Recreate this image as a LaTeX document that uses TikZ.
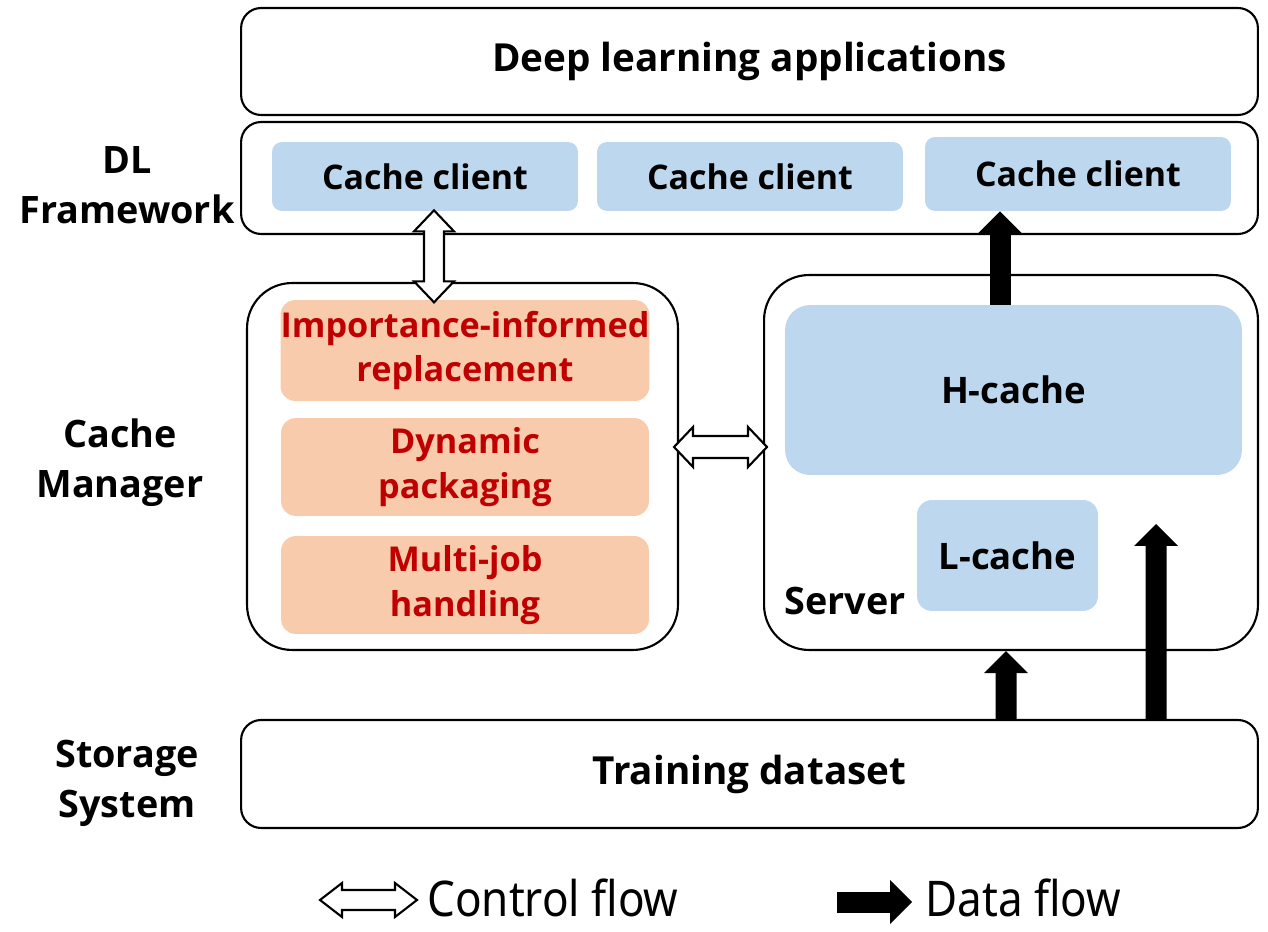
\documentclass[tikz,border=0pt]{standalone}
\usepackage{fontspec}
\setmainfont{Open Sans}
\newfontfamily\legendfont[FakeStretch=0.895]{Noto Sans}
\usetikzlibrary{calc,arrows.meta}
\definecolor{clientblue}{HTML}{BDD7EE}
\definecolor{mgrorange}{HTML}{F8CBAD}
\definecolor{mgrred}{HTML}{C00000}
\tikzset{
  layer/.style={draw, line width=1.2pt, rounded corners=0.4cm, minimum width=20.34cm, font=\bfseries\fontsize{22}{26}\selectfont},
  client/.style={fill=clientblue, rounded corners=0.2cm, minimum width=6.12cm, minimum height=1.38cm, font=\bfseries\fontsize{19.3}{23}\selectfont},
  cache/.style={client, font=\bfseries\fontsize{20.8}{24}\selectfont},
  policy/.style={fill=mgrorange, rounded corners=0.3cm, minimum width=7.36cm, minimum height=1.96cm, inner xsep=0pt, align=center, text=mgrred, font=\bfseries\fontsize{19.5}{25.5}\selectfont},
  group/.style={draw, line width=1.2pt, rounded corners=0.9cm},
  side/.style={align=center, font=\bfseries\fontsize{21.5}{28.3}\selectfont},
  ctrl/.style={draw, line width=1.2pt, fill=white, line join=miter},
  data/.style={line width=0.42cm, -{Triangle[length=0.44cm, width=0.88cm, line width=0pt]}},
  legend/.style={anchor=base west, inner sep=0, font=\legendfont\fontsize{28}{30}\selectfont}
}
\begin{document}
\begin{tikzpicture}[x=0.02cm, y=-0.02cm]
  \useasboundingbox (0,0) rectangle (1268,932);
  % layers
  \node[layer, minimum height=2.14cm] (app) at (749.5,61.5) {Deep learning applications};
  \node[layer, minimum height=2.24cm] (fw) at (749.5,178) {};
  \node[layer, minimum height=2.16cm] (dset) at (749.5,774) {Training dataset};
  \node[client] (c1) at (425,176.5) {Cache client};
  \node[client] (c2) at (750,176.5) {Cache client};
  \node[client, minimum height=1.48cm] (c3) at (1078,174) {Cache client};
  % cache manager
  \node[group, minimum width=8.62cm, minimum height=7.34cm] (mgr) at (462.5,466.5) {};
  \node[policy, minimum height=2.02cm] (imp) at (465,350.5) {Importance-informed\\replacement};
  \node[policy] (pkg) at (465,467) {Dynamic\\packaging};
  \node[policy] (mjh) at (465,585) {Multi-job\\handling};
  % server
  \node[group, minimum width=9.88cm, minimum height=7.5cm] (srv) at (1011,462.5) {};
  \node[cache, minimum width=9.14cm, minimum height=3.4cm, rounded corners=0.5cm] (hc) at (1013.5,390) {H-cache};
  \node[cache, minimum width=3.62cm, minimum height=2.22cm, rounded corners=0.3cm] (lc) at (1007.5,555.5) {L-cache};
  \node[side] (srvlbl) at (845,601) {Server};
  % side labels
  \node[side] (fwlbl) at (127,185) {DL\\Framework};
  \node[side] (mgrlbl) at (120,463) {Cache\\Manager};
  \node[side] (stlbl) at (127,783) {Storage\\System};
  % control flow
  \coordinate (ct) at ($(c1.south)+(9,-1)$);
  \draw[ctrl, shift={(ct)}] (0,0) -- (20,21) -- (10,21) -- (10,71) -- (20,71) -- (0,92) -- (-20,71) -- (-10,71) -- (-10,21) -- (-20,21) -- cycle;
  \coordinate (cl) at ($(mgr.east)+(-5,-19.5)$);
  \draw[ctrl, shift={(cl)}] (0,0) -- (19,-20) -- (19,-11) -- (74,-11) -- (74,-20) -- (93,0) -- (74,20) -- (74,11) -- (19,11) -- (19,20) -- cycle;
  % data flow
  \coordinate (lin) at (1156,524);
  \draw[data] ($(hc.north)+(-13.5,0)$) -- ($(c3.south)+(-78,0)$);
  \draw[data] ($(dset.north)+(256.5,0)$) -- ($(srv.south)+(-5,0)$);
  \draw[data] ($(dset.north)+(406.5,0)$) -- (lin);
  % legend
  \node[legend] (lgc) at (427,916) {Control flow};
  \node[legend] (lgd) at (925,916) {Data flow};
  \draw[ctrl, shift={($(lgc.base west)+(-107,-16)$)}] (0,0) -- (22,-17) -- (22,-10) -- (75,-10) -- (75,-17) -- (97,0) -- (75,17) -- (75,10) -- (22,10) -- (22,17) -- cycle;
  \coordinate (lgs) at ($(lgd.base west)+(-88,-14)$);
  \draw[data] (lgs) -- ++(75,0);
\end{tikzpicture}
\end{document}
